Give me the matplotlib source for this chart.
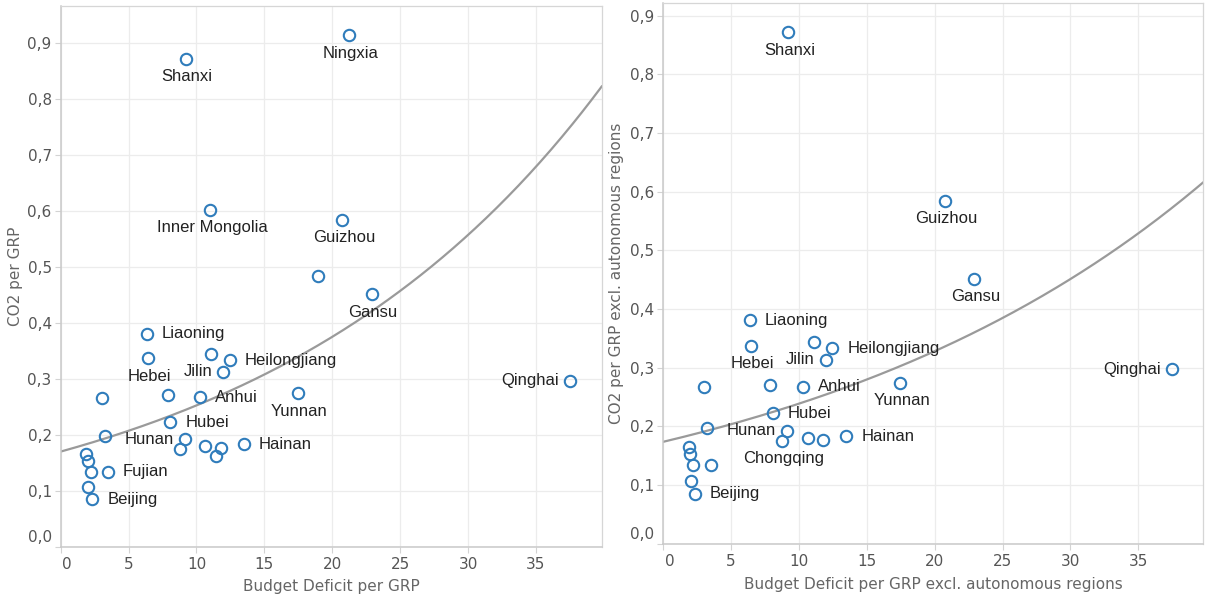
import numpy as np
import matplotlib
matplotlib.use("Agg")
import matplotlib.pyplot as plt
from matplotlib.transforms import ScaledTranslation

# ---------------- data ----------------
region = ["Shanxi", "Inner Mongolia", "Ningxia", "Guizhou", "", "Gansu", "Qinghai",
          "Yunnan", "Liaoning", "Hebei", "", "Heilongjiang", "Jilin", "", "",
          "Anhui", "Hubei", "", "Hunan", "Chongqing", "", "", "", "Hainan",
          "", "", "", "Fujian", "", "Beijing"]
deficit_per_grp = [9.21, 11.03, 21.2, 20.75, 18.97, 22.9, 37.5,
                   17.45, 6.36, 6.44, 11.09, 12.45, 11.98, 3.02, 7.87,
                   10.26, 8.07, 3.23, 9.13, 8.78, 10.66, 11.78, 11.45, 13.49,
                   1.86, 1.98, 2.21, 3.49, 2.03, 2.32]
co2_per_grp = [0.872, 0.602, 0.914, 0.584, 0.484, 0.451, 0.297,
               0.274, 0.381, 0.337, 0.344, 0.333, 0.313, 0.266, 0.271,
               0.267, 0.222, 0.197, 0.192, 0.175, 0.180, 0.176, 0.162, 0.183,
               0.165, 0.153, 0.133, 0.134, 0.107, 0.085]
autonomous = [False, True, True, False, True, False, False,
              False, False, False, False, False, False, False, False,
              False, False, False, False, False, False, False, True, False,
              False, False, False, False, False, False]

# labels shown in each panel and where they sit relative to the mark
left_labels = {"Shanxi": "below", "Inner Mongolia": "below", "Ningxia": "below",
               "Guizhou": "below", "Gansu": "below", "Qinghai": "left",
               "Yunnan": "below", "Liaoning": "right", "Hebei": "below",
               "Heilongjiang": "right", "Jilin": "left", "Anhui": "right",
               "Hubei": "right", "Hunan": "left", "Hainan": "right",
               "Fujian": "right", "Beijing": "right"}
right_labels = {"Shanxi": "below", "Guizhou": "below", "Gansu": "below",
                "Qinghai": "left", "Yunnan": "below", "Liaoning": "right",
                "Hebei": "below", "Jilin": "left", "Heilongjiang": "right",
                "Anhui": "right", "Hubei": "right", "Hunan": "left",
                "Hainan": "right", "Chongqing": "below", "Beijing": "right"}

x_ticks = [0, 5, 10, 15, 20, 25, 30, 35]
x_tick_labels = ["0", "5", "10", "15", "20", "25", "30", "35"]
y_ticks = [0.0, 0.1, 0.2, 0.3, 0.4, 0.5, 0.6, 0.7, 0.8, 0.9]
y_tick_labels = ["0,0", "0,1", "0,2", "0,3", "0,4", "0,5", "0,6", "0,7", "0,8", "0,9"]

left_xlabel = "Budget Deficit per GRP"
left_ylabel = "CO2 per GRP"
right_xlabel = "Budget Deficit per GRP excl. autonomous regions"
right_ylabel = "CO2 per GRP excl. autonomous regions"

# ---------------- style ----------------
W, H = 1208, 597
MARK = "#2f7cbb"
TREND = "#9a9a9a"
OFFS = {"right": (15, 0, "left"), "left": (-11, 0, "right"), "below": (1.5, -18, "center")}

fig = plt.figure(figsize=(W / 100, H / 100), dpi=100)


def px_axes(x0, y0, x1, y1):
    return fig.add_axes([x0 / W, 1 - y1 / H, (x1 - x0) / W, (y1 - y0) / H])


def draw_panel(ax, xs, ys, names, labels, xmax, ymax):
    xs = np.asarray(xs)
    ys = np.asarray(ys)
    ax.set_xlim(0, xmax)
    ax.set_ylim(0, ymax)
    ax.set_xticks(x_ticks)
    ax.set_xticklabels(x_tick_labels)
    ax.set_yticks(y_ticks)
    ax.set_yticklabels(y_tick_labels)
    ax.grid(True, color="#ececec", lw=0.9)
    ax.set_axisbelow(True)
    for s in ["top", "right"]:
        ax.spines[s].set_color("#d6d6d6")
        ax.spines[s].set_linewidth(0.9)
    for s in ["left", "bottom"]:
        ax.spines[s].set_color("#c9c9c9")
        ax.spines[s].set_linewidth(1.1)
    ax.tick_params(axis="both", length=4, width=0.8, color="#d3d3d3",
                   labelsize=11, labelcolor="#555555")
    ax.tick_params(axis="y", pad=2.5)
    ax.tick_params(axis="x", pad=3.5)
    for t in ax.get_xticklabels() + ax.get_yticklabels():
        t.set_fontfamily("DejaVu Sans")
    # shift edge labels like the original
    yl0 = ax.get_yticklabels()[0]
    yl0.set_transform(yl0.get_transform() + ScaledTranslation(0, 10.5 / 100, fig.dpi_scale_trans))
    xl0 = ax.get_xticklabels()[0]
    xl0.set_transform(xl0.get_transform() + ScaledTranslation(6.5 / 100, 0, fig.dpi_scale_trans))

    # exponential trend line (least squares on log y)
    b, lna = np.polyfit(xs, np.log(ys), 1)
    xx = np.linspace(0, xmax, 300)
    ax.plot(xx, np.exp(lna + b * xx), color=TREND, lw=1.6, zorder=2, clip_on=True)

    ax.plot(xs, ys, linestyle="none", marker="o", ms=8.2, mfc="none",
            mec=MARK, mew=1.5, zorder=3, clip_on=False)

    for x, y, n in zip(xs, ys, names):
        if n in labels:
            dx, dy, ha = OFFS[labels[n]]
            ax.annotate(n, (x, y), xytext=(dx, dy), textcoords="offset pixels",
                        ha=ha, va="center", fontsize=12, color="#222222",
                        fontfamily="Liberation Sans", zorder=4)


ax1 = px_axes(60.7, 5.7, 601.7, 546.7)
draw_panel(ax1, deficit_per_grp, co2_per_grp, region, left_labels, 39.84, 0.967)

keep = [not a for a in autonomous]
xs_r = [v for v, k in zip(deficit_per_grp, keep) if k]
ys_r = [v for v, k in zip(co2_per_grp, keep) if k]
names_r = [v for v, k in zip(region, keep) if k]
ax2 = px_axes(663.3, 2.7, 1202.7, 543.5)
draw_panel(ax2, xs_r, ys_r, names_r, right_labels, 39.75, 0.922)

tkw = dict(fontsize=11, color="#666666", fontfamily="DejaVu Sans", ha="center", va="center")
fig.text(15.5 / W, 1 - 276 / H, left_ylabel, rotation=90, **tkw)
fig.text(331 / W, 1 - 586 / H, left_xlabel, **tkw)
fig.text(616 / W, 1 - 273 / H, right_ylabel, rotation=90, **tkw)
fig.text(933 / W, 1 - 585 / H, right_xlabel, **tkw)

fig.savefig("out.png", dpi=100)
